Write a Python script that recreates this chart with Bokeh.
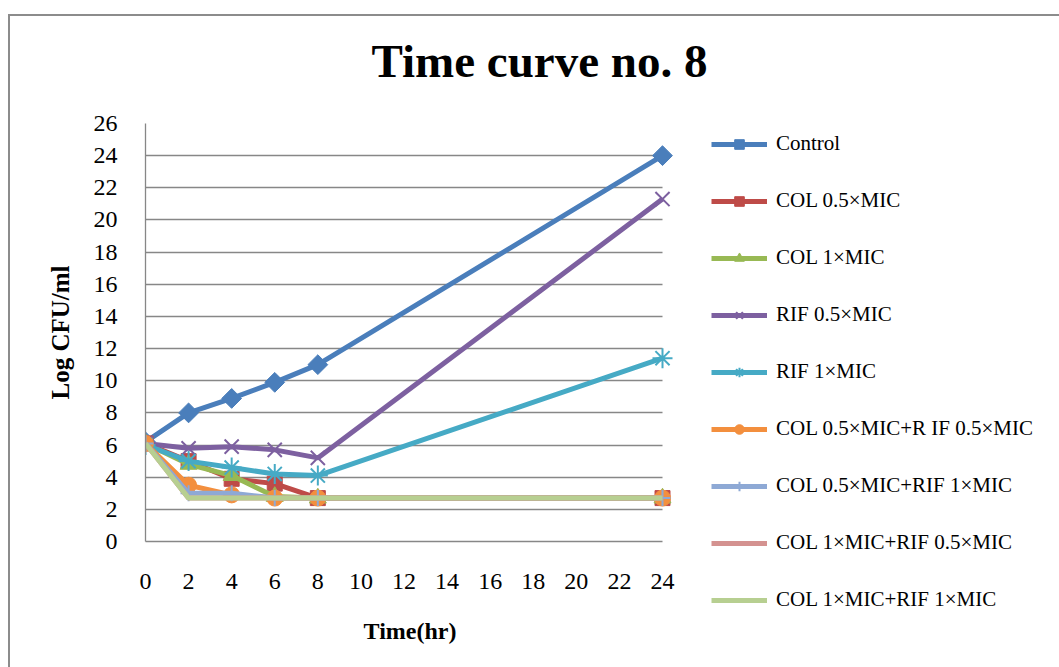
import numpy as np
from bokeh.plotting import figure
from bokeh.models import Legend, LegendItem, FixedTicker, ColumnDataSource, Title
from bokeh.embed import file_html
from bokeh.resources import INLINE

hours = [0, 2, 4, 6, 8, 24]
x_ticks = list(range(0, 25, 2))
y_ticks = list(range(0, 27, 2))

control = [6.2, 8.0, 8.9, 9.9, 11.0, 24.0]
col_05 = [6.1, 5.0, 3.9, 3.6, 2.7, 2.7]
col_1 = [6.1, 4.8, 4.1, 2.8, 2.7, 2.7]
rif_05 = [6.1, 5.8, 5.9, 5.7, 5.2, 21.3]
rif_1 = [6.0, 5.0, 4.6, 4.2, 4.1, 11.4]
col05_rif05 = [6.1, 3.5, 2.9, 2.7, 2.7, 2.7]
col05_rif1 = [6.1, 3.0, 3.0, 2.7, 2.7, 2.7]
col1_rif05 = [6.1, 2.7, 2.7, 2.7, 2.7, 2.7]
col1_rif1 = [6.1, 2.7, 2.7, 2.7, 2.7, 2.7]

series = [
    ("Control", control, "#4A7EBB", "square", 14, np.pi / 4),
    ("COL 0.5×MIC", col_05, "#BE4B48", "square", 15, 0),
    ("COL 1×MIC", col_1, "#98B954", "triangle", 17, 0),
    ("RIF 0.5×MIC", rif_05, "#7D60A0", "x", 20, 0),
    ("RIF 1×MIC", rif_1, "#46AAC5", "asterisk", 20, 0),
    ("COL 0.5×MIC+R IF 0.5×MIC", col05_rif05, "#F38F3E", "circle", 16, 0),
    ("COL 0.5×MIC+RIF 1×MIC", col05_rif1, "#8EA9D5", "cross", 16, 0),
    ("COL 1×MIC+RIF 0.5×MIC", col1_rif05, "#D49290", None, 0, 0),
    ("COL 1×MIC+RIF 1×MIC", col1_rif1, "#B7CF91", None, 0, 0),
]

SERIF = "Liberation Serif"
GRID = "#878787"

p = figure(frame_width=529, frame_height=418, x_range=(0, 24.557), y_range=(0, 26),
           output_backend="svg", toolbar_location=None, title=None,
           min_border_left=135, min_border_right=0,
           min_border_top=107, min_border_bottom=126)
p.styles = {"border-top": "2px solid #8c8c8c", "border-left": "2px solid #8c8c8c",
            "margin-top": "14px", "margin-left": "8px"}
p.outline_line_color = None
p.background_fill_color = "white"
p.border_fill_color = "white"

# spacer between title and plot frame, then the title itself
p.add_layout(Title(text=" ", text_font=SERIF, text_font_size="31px", standoff=0), "above")
p.add_layout(Title(text="Time curve no. 8", text_font=SERIF, text_font_size="47px",
                   text_font_style="bold", text_color="black", align="left",
                   offset=226, standoff=0), "above")

p.xgrid.grid_line_color = None
p.ygrid.grid_line_color = GRID
p.ygrid.grid_line_width = 1.3
p.ygrid.ticker = FixedTicker(ticks=y_ticks)
p.ygrid.cross_bounds = (0, 24)

p.xaxis.ticker = FixedTicker(ticks=x_ticks)
p.yaxis.ticker = FixedTicker(ticks=y_ticks)
p.xaxis.bounds = (0, 24)
for ax in (p.xaxis[0], p.yaxis[0]):
    ax.axis_line_color = GRID
    ax.axis_line_width = 1.3
    ax.major_tick_line_color = None
    ax.minor_tick_line_color = None
    ax.major_tick_out = 0
    ax.major_tick_in = 0
    ax.major_label_text_font = SERIF
    ax.major_label_text_font_size = "24px"
    ax.major_label_text_color = "black"
    ax.axis_label_text_font = SERIF
    ax.axis_label_text_font_style = "bold"
    ax.axis_label_text_color = "black"

p.xaxis.axis_label = "Time(hr)"
p.yaxis.axis_label = "Log CFU/ml"
p.xaxis.axis_label_text_font_size = "24px"
p.yaxis.axis_label_text_font_size = "25px"
p.xaxis.major_label_standoff = 32
p.yaxis.major_label_standoff = 28
p.xaxis.axis_label_standoff = 26
p.yaxis.axis_label_standoff = 17

items = []
for name, vals, color, marker, size, angle in series:
    src = ColumnDataSource(dict(x=hours, y=vals))
    rs = [p.line("x", "y", source=src, line_color=color, line_width=5)]
    if marker is not None:
        lw = 2 if marker in ("x", "asterisk", "cross") else 1
        rs.append(p.scatter("x", "y", source=src, marker=marker, size=size,
                            angle=angle, fill_color=color, line_color=color,
                            line_width=lw))
    items.append(LegendItem(label=name, renderers=rs))

legend = Legend(items=items, location=(37, -71))
legend.glyph_width = 56
legend.glyph_height = 24
legend.label_height = 24
legend.spacing = 32
legend.padding = 0
legend.margin = 0
legend.label_standoff = 9
legend.label_text_font = SERIF
legend.label_text_font_size = "21px"
legend.label_text_color = "black"
legend.border_line_color = None
legend.background_fill_alpha = 0
p.add_layout(legend, "right")

open("out.html", "w").write(file_html(p, INLINE))
